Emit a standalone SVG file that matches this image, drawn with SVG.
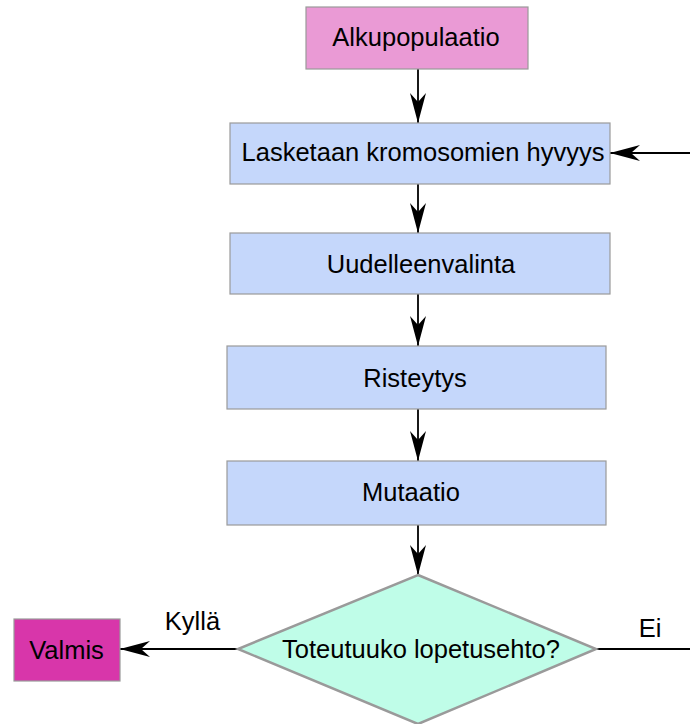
<svg xmlns="http://www.w3.org/2000/svg" width="690" height="724" viewBox="0 0 690 724">
  <style>
    .box { stroke: #9a9a9a; stroke-width: 1.2; }
    .start { fill: #ea9ad5; }
    .step { fill: #c5d7fb; }
    .done { fill: #d836aa; }
    .decision { fill: #bffde8; stroke: #9a9a9a; stroke-width: 2.5; }
    .label { font-family: "Liberation Sans", Arial, sans-serif; font-size: 25.5px; fill: #000; text-anchor: middle; }
    .edge { stroke: #000; stroke-width: 1.8; fill: none; }
  </style>
  <defs>
    <marker id="arrow" markerUnits="userSpaceOnUse" markerWidth="32" markerHeight="18" refX="30" refY="8" orient="auto">
      <path d="M30,8 L0,0 L9,8 L0,16 Z" fill="#000"/>
    </marker>
  </defs>

  <g id="connectors">
    <line class="edge" x1="418" y1="69" x2="418" y2="123" marker-end="url(#arrow)"/>
    <line class="edge" x1="418" y1="184" x2="418" y2="233" marker-end="url(#arrow)"/>
    <line class="edge" x1="418" y1="294" x2="418" y2="346" marker-end="url(#arrow)"/>
    <line class="edge" x1="418" y1="409" x2="418" y2="461" marker-end="url(#arrow)"/>
    <line class="edge" x1="418" y1="525" x2="418" y2="575" marker-end="url(#arrow)"/>
    <line class="edge" x1="238" y1="649" x2="120" y2="649" marker-end="url(#arrow)"/>
    <line class="edge" x1="596" y1="649" x2="690" y2="649"/>
    <line class="edge" x1="690" y1="153" x2="610" y2="153" marker-end="url(#arrow)"/>
    <text class="label" x="192.5" y="630">Kyllä</text>
    <text class="label" x="650" y="637">Ei</text>
  </g>

  <g id="alkupopulaatio">
    <rect class="box start" x="306" y="7" width="222" height="62"/>
    <text class="label" x="416" y="46">Alkupopulaatio</text>
  </g>

  <g id="hyvyys">
    <rect class="box step" x="230" y="123" width="380" height="61"/>
    <text class="label" x="423" y="161">Lasketaan kromosomien hyvyys</text>
  </g>

  <g id="uudelleenvalinta">
    <rect class="box step" x="230" y="233" width="380" height="61"/>
    <text class="label" x="421" y="273">Uudelleenvalinta</text>
  </g>

  <g id="risteytys">
    <rect class="box step" x="227" y="346" width="379" height="63"/>
    <text class="label" x="415" y="387">Risteytys</text>
  </g>

  <g id="mutaatio">
    <rect class="box step" x="227" y="461" width="379" height="64"/>
    <text class="label" x="411" y="501">Mutaatio</text>
  </g>

  <g id="lopetusehto">
    <polygon class="decision" points="418,575 596,649 418,724 238,649"/>
    <text class="label" x="421" y="658">Toteutuuko lopetusehto?</text>
  </g>

  <g id="valmis">
    <rect class="box done" x="14" y="619" width="106" height="62"/>
    <text class="label" x="66.5" y="659">Valmis</text>
  </g>
</svg>
